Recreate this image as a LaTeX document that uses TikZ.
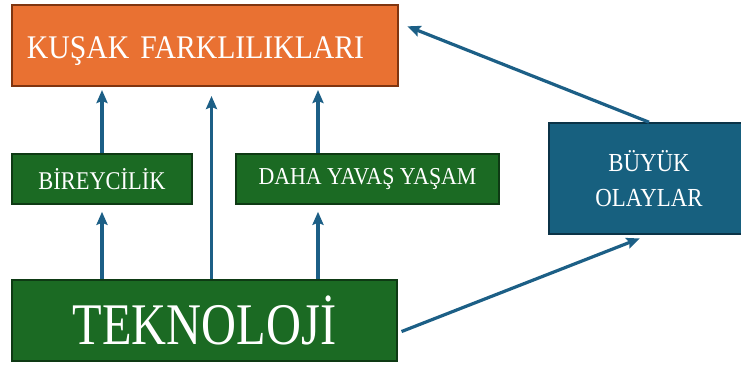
\documentclass[tikz,border=0pt]{standalone}
\usepackage{fontspec}
\usepackage{xcolor}
\usepackage{tikz}
\usetikzlibrary{positioning}
\usetikzlibrary{arrows.meta}

\newfontfamily\boxfont[FakeStretch=0.9]{Liberation Serif}
\newfontfamily\smallboxfont[FakeStretch=0.88]{Liberation Serif}
\newfontfamily\bigboxfont[FakeStretch=0.82]{Liberation Serif}

\definecolor{kforange}{HTML}{E97132}
\definecolor{kfborder}{HTML}{7F3510}
\definecolor{tkgreen}{HTML}{1B6A23}
\definecolor{tkborder}{HTML}{0E3A14}
\definecolor{boblue}{HTML}{17607F}
\definecolor{boborder}{HTML}{0B3347}
\definecolor{arrowblue}{HTML}{1C5F86}

\begin{document}
\begin{tikzpicture}[x=1pt,y=-1pt,
	box/.style={draw, line width=1.6pt, text=white, inner sep=0pt},
	arr/.style={draw=arrowblue, line width=3.2pt,
		-{Stealth[length=13pt,width=11pt,inset=2pt]}}]

	% page size of the reference
	\useasboundingbox (0,0) rectangle (741,367);

	% the boxes, placed at their centres
	\node[box, fill=kforange, draw=kfborder, line width=2pt,
		minimum height=81pt, text width=356pt, inner xsep=15pt, align=left,
		text height=25pt, text depth=0pt,
		font=\boxfont\fontsize{33}{36}\selectfont]
		(KF) at (205,45.5) {KUŞAK FARKLILIKLARI};
	\node[box, fill=tkgreen, draw=tkborder, minimum width=180pt, minimum height=50pt,
		font=\smallboxfont\fontsize{25.5}{28}\selectfont]
		(BR) at (102,179) {BİREYCİLİK};
	\node[box, fill=tkgreen, draw=tkborder, minimum width=263pt, minimum height=50pt,
		font=\boxfont\fontsize{24.3}{27}\selectfont]
		(DY) at (367.5,179) {DAHA YAVAŞ YAŞAM};
	\node[box, fill=tkgreen, draw=tkborder, minimum width=385pt, minimum height=81pt,
		font=\bigboxfont\fontsize{59}{62}\selectfont]
		(TK) at (204.5,320.5) {TEKNOLOJİ};
	\node[box, fill=boblue, draw=boborder, minimum width=200pt, minimum height=111pt,
		align=center, font=\smallboxfont\fontsize{26}{35}\selectfont]
		(BO) at (649,178.5) {BÜYÜK\\OLAYLAR};

	%%%%%%%%%%%%%%%%%%%%%%%%%%%%%%%%%%%%%%%%%%%%%%%%%%%%%%%%%
	% arrows going up into the boxes
	\draw[arr, shorten >=7pt] (TK.north -| BR.south) -- (BR.south);
	\draw[arr, shorten >=3pt] (BR.north) -- (BR.north |- KF.south);
	\draw[arr, shorten >=9pt] ([xshift=7pt]TK.north) -- ([xshift=7pt]TK.north |- KF.south);
	\draw[arr, shorten >=7pt] ([xshift=-49.5pt]DY.south |- TK.north) -- ([xshift=-49.5pt]DY.south);
	\draw[arr, shorten >=3pt] ([xshift=-49.5pt]DY.north) -- ([xshift=-49.5pt]DY.north |- KF.south);

	% the two slanted arrows
	\draw[arr, shorten >=9pt] (BO.north) -- ([yshift=22.5pt]KF.east);
	\draw[arr, shorten <=4pt, shorten >=10pt] ([yshift=-12.5pt]TK.east) -- (BO.south);

\end{tikzpicture}
\end{document}
